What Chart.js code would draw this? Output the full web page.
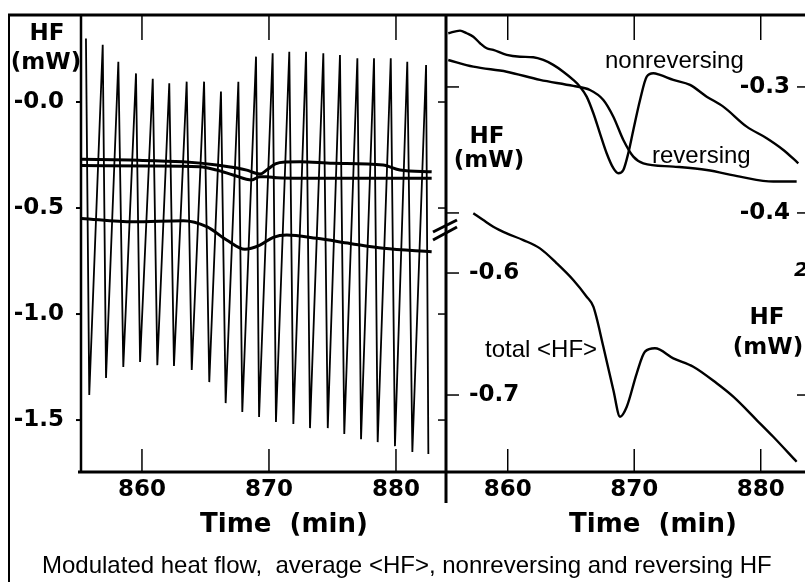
<!DOCTYPE html>
<html>
<head>
<meta charset="utf-8">
<script src="https://cdn.jsdelivr.net/npm/chart.js@4.4.1/dist/chart.umd.min.js"></script>
<style>
  html, body { margin: 0; padding: 0; background: #fff; overflow: hidden; }
  canvas { position: absolute; left: 0; top: 0; }
</style>
</head>
<body>
<canvas id="leftChart" width="805" height="582"></canvas>
<canvas id="rightChart" width="805" height="582"></canvas>
<script>
// ---- data ----
const xTicks = [860, 870, 880];
const leftYTicks = [0, -0.5, -1.0, -1.5];
const leftYLabels = ['-0.0', '-0.5', '-1.0', '-1.5'];
const upperTicks = [-0.3, -0.4];
const upperLabels = ['-0.3', '-0.4'];
const lowerTicks = [-0.6, -0.7];
const lowerLabels = ['-0.6', '-0.7'];

// modulated heat flow: tips of each oscillation
const peakTime = [855.59, 856.91, 858.14, 859.53, 860.85, 862.15, 863.52, 864.89, 866.22, 867.59, 868.98,
                  870.29, 871.60, 872.92, 874.28, 875.59, 876.96, 878.27, 879.59, 880.89, 882.37];
const peakHF = [0.30, 0.27, 0.19, 0.135, 0.11, 0.088, 0.096, 0.096, 0.049, 0.096, 0.214,
                0.23, 0.237, 0.237, 0.23, 0.222, 0.206, 0.206, 0.206, 0.19, 0.175];
const troughTime = [855.85, 857.17, 858.53, 859.85, 861.21, 862.52, 863.92, 865.30, 866.59, 867.90, 869.22,
                    870.55, 871.92, 873.23, 874.63, 875.93, 877.25, 878.56, 879.92, 881.29, 882.55];
const troughHF = [-1.382, -1.302, -1.250, -1.226, -1.241, -1.245, -1.264, -1.321, -1.420, -1.462, -1.486,
                  -1.509, -1.519, -1.538, -1.538, -1.566, -1.590, -1.604, -1.623, -1.651, -1.660];

// average <HF> in left panel
const avgTime = [855.25, 859.32, 863.26, 865.10, 866.67, 868.11, 869.29, 870.34, 871.40, 873.76, 876.38, 879.0, 882.81];
const avgHF = [-0.549, -0.565, -0.560, -0.588, -0.651, -0.695, -0.675, -0.638, -0.627, -0.643, -0.667, -0.690, -0.706];

// nonreversing and reversing in left panel
const nonrevLeftTime = [855.25, 859.06, 863.23, 865.88, 868.25, 868.9, 869.29, 869.82, 870.5, 871.26, 872.44, 875.04, 878.98, 880.32, 882.81];
const nonrevLeftHF = [-0.270, -0.274, -0.282, -0.297, -0.321, -0.335, -0.340, -0.321, -0.292, -0.283, -0.282, -0.289, -0.297, -0.321, -0.329];
const revLeftTime = [855.25, 860.63, 864.57, 865.88, 867.17, 868.64, 869.29, 869.82, 870.61, 875.04, 882.81];
const revLeftHF = [-0.300, -0.302, -0.305, -0.321, -0.344, -0.368, -0.352, -0.352, -0.357, -0.360, -0.360];

// right panel, upper scale
const nonrevTime = [855.30, 856.23, 856.76, 857.28, 857.81, 858.34, 858.86, 859.92, 860.97, 862.02, 862.81, 863.60,
                    864.39, 865.18, 865.71, 866.24, 866.77, 867.29, 867.82, 868.35, 868.74, 869.14, 869.53, 869.93,
                    870.46, 870.99, 871.51, 872.04, 873.09, 874.41, 875.73, 877.04, 878.89, 880.47, 881.79, 882.97];
const nonrevHF = [-0.2574, -0.2553, -0.2574, -0.2601, -0.2653, -0.2693, -0.2706, -0.2746, -0.2760, -0.2764, -0.2786, -0.2825,
                  -0.2879, -0.2944, -0.2998, -0.3077, -0.3209, -0.3368, -0.3526, -0.3645, -0.3685, -0.3659, -0.3526, -0.3341,
                  -0.3103, -0.2918, -0.2891, -0.2905, -0.2944, -0.2984, -0.3077, -0.3156, -0.3315, -0.3407, -0.3500, -0.3606];
const revTime = [855.30, 857.28, 859.92, 862.55, 865.18, 866.50, 867.56, 868.35, 869.14, 869.93, 870.72, 873.09,
                 875.73, 878.36, 880.99, 882.84];
const revHF = [-0.2786, -0.2839, -0.2879, -0.2944, -0.2992, -0.3024, -0.3103, -0.3236, -0.3421, -0.3553, -0.3606, -0.3632,
               -0.3659, -0.3712, -0.3751, -0.3751];

// right panel, lower scale
const totalTime = [857.28, 858.07, 858.86, 859.92, 861.23, 862.55, 863.87, 865.18, 866.24, 866.77, 867.56, 868.35,
                   868.88, 869.41, 870.20, 870.85, 871.64, 873.09, 874.67, 876.52, 877.83, 879.68, 880.99, 882.84];
const totalHF = [-0.551, -0.5566, -0.562, -0.5675, -0.573, -0.5798, -0.592, -0.6057, -0.6194, -0.6276, -0.6604, -0.6959,
                 -0.7178, -0.7096, -0.6822, -0.6645, -0.6617, -0.6699, -0.6768, -0.6904, -0.7014, -0.7205, -0.7342, -0.7547];

function pts(xs, ys) {
    return xs.map((t, i) => ({ x: t, y: ys[i] }));
}

const modPoints = [];
peakTime.forEach((t, i) => {
    modPoints.push({ x: t, y: peakHF[i] });
    modPoints.push({ x: troughTime[i], y: troughHF[i] });
});

const BOLD = 'bold 23px "DejaVu Sans"';
const TITLE = 'bold 26px "DejaVu Sans"';
const PLAIN = '24px "Liberation Sans"';

function line(ctx, x1, y1, x2, y2, w) {
    ctx.beginPath();
    ctx.lineWidth = w;
    ctx.moveTo(x1, y1);
    ctx.lineTo(x2, y2);
    ctx.stroke();
}

function text(ctx, s, x, y, font, align, base) {
    ctx.font = font;
    ctx.textAlign = align || 'left';
    ctx.textBaseline = base || 'alphabetic';
    ctx.fillText(s, x, y);
}

const leftDecor = {
    id: 'leftDecor',
    afterDraw(chart) {
        const { ctx, chartArea: a, scales: { x, y } } = chart;
        ctx.save();
        ctx.strokeStyle = '#000';
        ctx.fillStyle = '#000';
        line(ctx, 8, 15, 805, 15, 3);
        line(ctx, 9, 14, 9, 582, 2);
        line(ctx, a.left, a.top, a.left, a.bottom, 2.5);
        line(ctx, a.left - 3, a.bottom, a.right + 2, a.bottom, 3);
        line(ctx, a.right + 1, a.top, a.right + 1, 503, 3);

        xTicks.forEach(v => {
            const px = x.getPixelForValue(v);
            line(ctx, px, a.top, px, a.top + 25, 1.5);
            line(ctx, px, a.bottom - 23, px, a.bottom, 1.5);
            text(ctx, String(v), px, a.bottom + 18, BOLD, 'center', 'middle');
        });
        leftYTicks.forEach((v, i) => {
            const py = y.getPixelForValue(v);
            line(ctx, a.left - 5, py, a.left, py, 2);
            line(ctx, a.right - 7, py, a.right, py, 1.5);
            text(ctx, leftYLabels[i], 64, py, BOLD, 'right', 'middle');
        });

        text(ctx, 'HF', 47, 34, BOLD, 'center', 'middle');
        text(ctx, '(mW)', 46, 63, BOLD, 'center', 'middle');
        text(ctx, 'Time  (min)', 284, 525, TITLE, 'center', 'middle');
        text(ctx, 'Modulated heat flow,  average <HF>, nonreversing and reversing HF', 42, 573, PLAIN, 'left');
        ctx.restore();
    }
};

const rightDecor = {
    id: 'rightDecor',
    afterDraw(chart) {
        const { ctx, chartArea: a, scales: { x, y, y2 } } = chart;
        ctx.save();
        ctx.strokeStyle = '#000';
        ctx.fillStyle = '#000';
        line(ctx, a.left - 2, a.bottom, a.right, a.bottom, 3);

        xTicks.forEach(v => {
            const px = x.getPixelForValue(v);
            line(ctx, px, a.top, px, a.top + 25, 1.5);
            line(ctx, px, a.bottom - 23, px, a.bottom, 1.5);
            text(ctx, String(v), px, a.bottom + 18, BOLD, 'center', 'middle');
        });
        upperTicks.forEach((v, i) => {
            const py = y2.getPixelForValue(v);
            line(ctx, a.left, py, a.left + 12, py, 1.5);
            line(ctx, a.right - 8, py, a.right, py, 1.5);
            text(ctx, upperLabels[i], 790, py, BOLD, 'right', 'middle');
        });
        lowerTicks.forEach((v, i) => {
            const py = y.getPixelForValue(v);
            line(ctx, a.left, py, a.left + 12, py, 1.5);
            if (i === 1) line(ctx, a.right - 8, py, a.right, py, 1.5);
            text(ctx, lowerLabels[i], 469, py, BOLD, 'left', 'middle');
        });

        // axis break marks
        line(ctx, 433, 232, 457, 220, 3);
        line(ctx, 433, 240, 457, 227, 3);

        text(ctx, 'HF', 487, 137, BOLD, 'center', 'middle');
        text(ctx, '(mW)', 489, 161, BOLD, 'center', 'middle');
        text(ctx, 'HF', 767, 318, BOLD, 'center', 'middle');
        text(ctx, '(mW)', 768, 348, BOLD, 'center', 'middle');
        text(ctx, 'nonreversing', 605, 68, PLAIN, 'left');
        text(ctx, 'reversing', 652, 163, PLAIN, 'left');
        text(ctx, 'total <HF>', 485, 357, PLAIN, 'left');
        text(ctx, 'Time  (min)', 653, 525, TITLE, 'center', 'middle');
        text(ctx, '2', 794, 271, 'bold italic 20px "DejaVu Sans"', 'left', 'middle');
        ctx.restore();
    }
};

const smooth = { borderColor: '#000', pointRadius: 0, fill: false, cubicInterpolationMode: 'monotone' };

new Chart(document.getElementById('leftChart'), {
    type: 'line',
    data: {
        datasets: [
            { ...smooth, label: 'average <HF>', data: pts(avgTime, avgHF), borderWidth: 3 },
            { ...smooth, label: 'nonreversing', data: pts(nonrevLeftTime, nonrevLeftHF), borderWidth: 3 },
            { ...smooth, label: 'reversing', data: pts(revLeftTime, revLeftHF), borderWidth: 3 },
            { label: 'modulated HF', data: modPoints, borderColor: '#000', borderWidth: 1.8, pointRadius: 0, tension: 0 }
        ]
    },
    options: {
        responsive: false,
        animation: false,
        layout: { padding: { left: 81, top: 15, right: 360, bottom: 110 } },
        plugins: { legend: { display: false }, tooltip: { enabled: false } },
        scales: {
            x: { type: 'linear', min: 855.2, max: 883.86, display: false },
            y: { type: 'linear', min: -1.745, max: 0.4104, display: false }
        }
    },
    plugins: [leftDecor]
});

new Chart(document.getElementById('rightChart'), {
    type: 'line',
    data: {
        datasets: [
            { ...smooth, label: 'nonreversing', data: pts(nonrevTime, nonrevHF), borderWidth: 2.4, yAxisID: 'y2' },
            { ...smooth, label: 'reversing', data: pts(revTime, revHF), borderWidth: 2.4, yAxisID: 'y2' },
            { ...smooth, label: 'total <HF>', data: pts(totalTime, totalHF), borderWidth: 2.4, yAxisID: 'y' }
        ]
    },
    options: {
        responsive: false,
        animation: false,
        layout: { padding: { left: 447, top: 15, right: 0, bottom: 110 } },
        plugins: { legend: { display: false }, tooltip: { enabled: false } },
        scales: {
            x: { type: 'linear', min: 855.2, max: 883.5, display: false },
            y: { type: 'linear', min: -0.7631, max: -0.3885, display: false },
            y2: { type: 'linear', min: -0.6056, max: -0.2429, display: false }
        }
    },
    plugins: [rightDecor]
});
</script>
</body>
</html>
